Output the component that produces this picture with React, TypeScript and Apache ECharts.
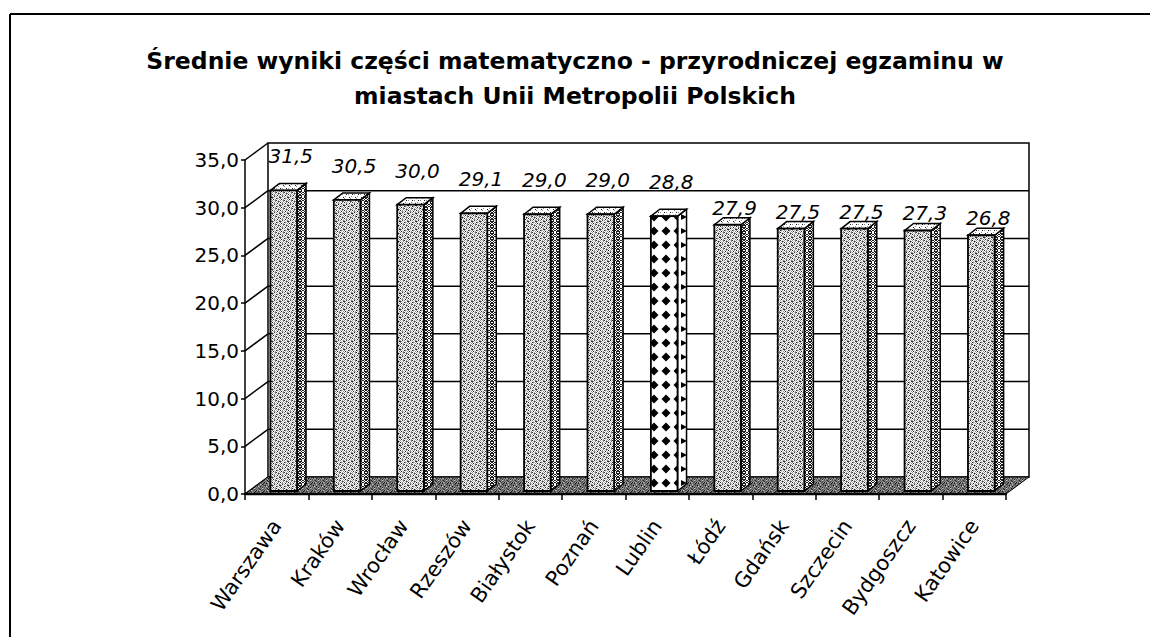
import React, { useEffect, useRef } from "react";
import * as echarts from "echarts";

// ---------- data ----------
const cities = [
  "Warszawa", "Kraków", "Wrocław", "Rzeszów", "Białystok", "Poznań",
  "Lublin", "Łódź", "Gdańsk", "Szczecin", "Bydgoszcz", "Katowice",
];
const scores = [31.5, 30.5, 30.0, 29.1, 29.0, 29.0, 28.8, 27.9, 27.5, 27.5, 27.3, 26.8];
const highlightedCity = "Lublin";
const yTicks = [0, 5, 10, 15, 20, 25, 30, 35];
const titleLines = [
  "Średnie wyniki części matematyczno - przyrodniczej egzaminu w",
  "miastach Unii Metropolii Polskich",
];

// ---------- style constants ----------
const FONT = "DejaVu Sans";
const DX = 23; // 3D depth offset of walls
const DY = -17;
const BAR_SHIFT_X = 7;
const BAR_SHIFT_Y = -3;
const BAR_DX = 9;
const BAR_DY = -7;
const fmt = (v: number) => v.toFixed(1).replace(".", ",");

function tile(rows: string[], colors: Record<string, string>): HTMLCanvasElement {
  const h = rows.length;
  const w = rows[0].length;
  const c = document.createElement("canvas");
  c.width = w;
  c.height = h;
  const ctx = c.getContext("2d")!;
  for (let y = 0; y < h; y++) {
    for (let x = 0; x < w; x++) {
      ctx.fillStyle = colors[rows[y][x]] || "#fff";
      ctx.fillRect(x, y, 1, 1);
    }
  }
  return c;
}

function diamondTile(w: number, h: number, r: number): HTMLCanvasElement {
  const c = document.createElement("canvas");
  c.width = w;
  c.height = h;
  const ctx = c.getContext("2d")!;
  ctx.fillStyle = "#fff";
  ctx.fillRect(0, 0, w, h);
  ctx.fillStyle = "#000";
  ctx.beginPath();
  ctx.moveTo(w / 2, h / 2 - r);
  ctx.lineTo(w / 2 + r, h / 2);
  ctx.lineTo(w / 2, h / 2 + r);
  ctx.lineTo(w / 2 - r, h / 2);
  ctx.closePath();
  ctx.fill();
  return c;
}

function triTile(w: number, h: number): HTMLCanvasElement {
  const c = document.createElement("canvas");
  c.width = w;
  c.height = h;
  const ctx = c.getContext("2d")!;
  ctx.fillStyle = "#fff";
  ctx.fillRect(0, 0, w, h);
  ctx.fillStyle = "#000";
  ctx.beginPath();
  ctx.moveTo(1, h / 2 - 3);
  ctx.lineTo(w - 1, h / 2);
  ctx.lineTo(1, h / 2 + 3);
  ctx.closePath();
  ctx.fill();
  return c;
}

const pal = { ".": "#ffffff", g: "#8c8c8c", k: "#1e1e1e", l: "#c4c4c4", d: "#5a5a5a" };

export default function App() {
  const ref = useRef<HTMLDivElement>(null);

  useEffect(() => {
    if (!ref.current) return;
    const chart = echarts.init(ref.current, null, { renderer: "svg" });

    const frontTile = tile(
      [
        "g.lgk.l.",
        ".l.g.lkg",
        "k.g.l.g.",
        ".lgl.k.l",
        "l.k.g.lg",
        "kg.l.l.k",
        "g.l.kgl.",
        ".k.g.l.g",
      ],
      pal
    );
    const sideTile = tile(
      [
        "k.kk.k",
        ".k..k.",
        "k.kk.k",
        "kk..kk",
        ".k..k.",
        "kk..kk",
      ],
      pal
    );
    const topTile = tile(
      [
        "..g...",
        "......",
        "g...k.",
        "......",
        "...g..",
        ".k....",
      ],
      pal
    );
    const floorTile = tile(
      [
        "dgdkgdlg",
        "gdgdkgdd",
        "kgdlgddg",
        "dgkdgdgk",
        "gdgdlgkd",
        "dkgdgdgd",
        "gdlgkdgd",
        "dgdgdgkg",
      ],
      pal
    );
    const lubFront = diamondTile(12, 14, 4.5);
    const lubSide = triTile(8, 14);

    const pat = (img: HTMLCanvasElement, x = 0, y = 0): any => ({
      image: img,
      repeat: "repeat",
      imageWidth: img.width,
      imageHeight: img.height,
      x,
      y,
    });

    const frameSeries = {
      type: "custom",
      clip: false,
      z: 1,
      silent: true,
      data: [[cities[0], 0]],
      renderItem: (params: any, api: any) => {
        const cs = params.coordSys;
        const L = cs.x;
        const R = cs.x + cs.width;
        const yTop = api.coord([0, yTicks[yTicks.length - 1]])[1];
        const y0 = api.coord([0, 0])[1];
        const children: any[] = [];
        children.push({
          type: "rect",
          shape: { x: L + DX, y: yTop + DY, width: R - L, height: y0 - yTop },
          style: { fill: "#fff", stroke: "#000", lineWidth: 1.5 },
        });
        yTicks.forEach((v) => {
          const y = api.coord([0, v])[1];
          if (v > 0 && v < yTicks[yTicks.length - 1]) {
            children.push({
              type: "line",
              shape: { x1: L + DX, y1: y + DY, x2: R + DX, y2: y + DY },
              style: { stroke: "#000", lineWidth: 1.5 },
            });
          }
          children.push({
            type: "line",
            shape: { x1: L, y1: y, x2: L + DX, y2: y + DY },
            style: { stroke: "#000", lineWidth: 1.5 },
          });
        });
        children.push({
          type: "polygon",
          shape: { points: [[L, y0], [R, y0], [R + DX, y0 + DY], [L + DX, y0 + DY]] },
          style: { fill: pat(floorTile), stroke: "#000", lineWidth: 1 },
        });
        children.push({
          type: "line",
          shape: { x1: L, y1: y0, x2: R, y2: y0 },
          style: { stroke: "#000", lineWidth: 2.5 },
        });
        return { type: "group", children };
      },
    };

    const barSeries = {
      type: "custom",
      clip: false,
      z: 3,
      data: cities.map((c, i) => [c, scores[i]]),
      encode: { x: 0, y: 1 },
      renderItem: (params: any, api: any) => {
        const i = params.dataIndex;
        const v = api.value(1);
        const base = api.coord([i, 0]);
        const top = api.coord([i, v]);
        const bw = api.size([1, 0])[0] * 0.42;
        const x0 = base[0] - bw / 2 + BAR_SHIFT_X;
        const x1 = x0 + bw;
        const yb = base[1] + BAR_SHIFT_Y;
        const yt = top[1] + BAR_SHIFT_Y;
        const hl = cities[i] === highlightedCity;
        const lift = i < 7 ? 34 : 17;
        return {
          type: "group",
          children: [
            {
              type: "polygon",
              shape: { points: [[x1, yt], [x1 + BAR_DX, yt + BAR_DY], [x1 + BAR_DX, yb + BAR_DY], [x1, yb]] },
              style: { fill: hl ? pat(lubSide, x1, yt) : pat(sideTile), stroke: "#000", lineWidth: 1.5 },
            },
            {
              type: "polygon",
              shape: { points: [[x0, yt], [x0 + BAR_DX, yt + BAR_DY], [x1 + BAR_DX, yt + BAR_DY], [x1, yt]] },
              style: { fill: pat(topTile), stroke: "#000", lineWidth: 1.5 },
            },
            {
              type: "rect",
              shape: { x: x0, y: yt, width: bw, height: yb - yt },
              style: { fill: hl ? pat(lubFront, x0 + 0.5, yt + 2) : pat(frontTile), stroke: "#000", lineWidth: 1.8 },
            },
            {
              type: "text",
              x: (x0 + x1) / 2 + 7,
              y: yt - lift,
              style: {
                text: fmt(v),
                fill: "#000",
                font: `italic 20px '${FONT}'`,
                align: "center",
                verticalAlign: "middle",
              },
            },
          ],
        };
      },
    };

    chart.setOption({
      animation: false,
      backgroundColor: "#fff",
      title: {
        text: titleLines.join("\n"),
        left: "center",
        top: 38,
        textStyle: {
          fontFamily: FONT,
          fontSize: 23.5,
          fontWeight: "bold",
          color: "#000",
          lineHeight: 35,
        },
      },
      graphic: [
        {
          type: "line",
          z: -10,
          silent: true,
          shape: { x1: 10, y1: 14, x2: 1150, y2: 14 },
          style: { stroke: "#000", lineWidth: 2 },
        },
        {
          type: "line",
          z: -10,
          silent: true,
          shape: { x1: 10, y1: 14, x2: 10, y2: 637 },
          style: { stroke: "#000", lineWidth: 2 },
        },
      ],
      grid: { left: 245, right: 144, top: 160, bottom: 143 },
      xAxis: {
        type: "category",
        data: cities,
        boundaryGap: true,
        axisLine: { show: true, lineStyle: { color: "#000", width: 2 } },
        axisTick: { show: true, length: 6, alignWithLabel: false, lineStyle: { color: "#000", width: 1.5 } },
        axisLabel: {
          interval: 0,
          rotate: 55,
          margin: 28,
          fontFamily: FONT,
          fontSize: 21,
          color: "#000",
        },
        splitLine: { show: false },
      },
      yAxis: {
        type: "value",
        min: 0,
        max: 35,
        interval: 5,
        axisLine: { show: true, lineStyle: { color: "#000", width: 1.5 } },
        axisTick: { show: true, length: 4, lineStyle: { color: "#000", width: 1.5 } },
        axisLabel: {
          formatter: (v: number) => fmt(v),
          fontFamily: FONT,
          fontSize: 20,
          color: "#000",
          margin: 6,
        },
        splitLine: { show: false },
      },
      series: [frameSeries, barSeries],
    } as any);

    return () => chart.dispose();
  }, []);

  return (
    <div
      ref={ref}
      style={{ position: "absolute", left: 0, top: 0, width: 1150, height: 637, background: "#fff" }}
    />
  );
}
